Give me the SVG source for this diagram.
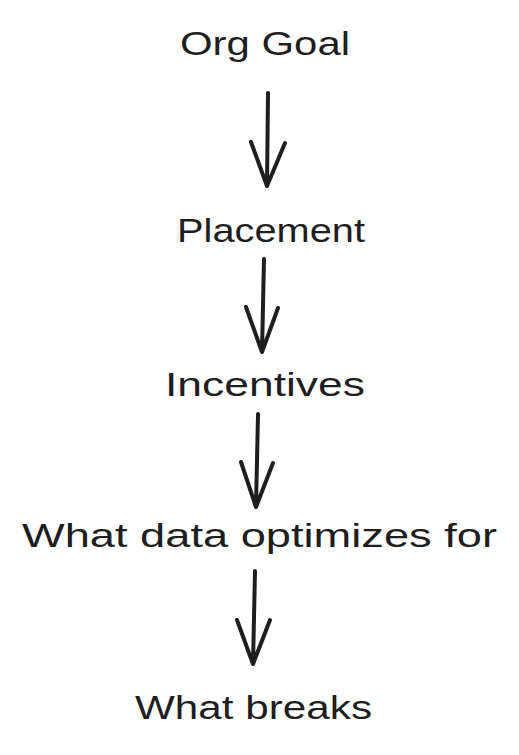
<svg xmlns="http://www.w3.org/2000/svg" width="519" height="755" viewBox="0 0 519 755">
<style>
.t{font-family:"Liberation Sans","DejaVu Sans",sans-serif;font-size:33px;fill:#1e1e1e}
.a{fill:none;stroke:#1e1e1e;stroke-width:4;stroke-linecap:round;stroke-linejoin:round}
</style>
<rect width="519" height="755" fill="#ffffff"/>
<g id="node-org-goal"><text class="t" x="180" y="55" textLength="170" lengthAdjust="spacingAndGlyphs">Org Goal</text></g>
<g id="node-placement"><text class="t" x="177" y="242" textLength="188" lengthAdjust="spacingAndGlyphs">Placement</text></g>
<g id="node-incentives"><text class="t" x="165" y="396" textLength="200" lengthAdjust="spacingAndGlyphs">Incentives</text></g>
<g id="node-what-data"><text class="t" x="22" y="547" textLength="475" lengthAdjust="spacingAndGlyphs">What data optimizes for</text></g>
<g id="node-what-breaks"><text class="t" x="135" y="719" textLength="237" lengthAdjust="spacingAndGlyphs">What breaks</text></g>
<g id="connectors">
<path class="a" d="M268 93 L267 186 M251 142 L267 186 L285 143"/>
<path class="a" d="M264 259 L262 352 M246 307 L262 352 L278 308"/>
<path class="a" d="M258 414 L256 507 M241 462 L256 507 L273 463"/>
<path class="a" d="M255 571 L253 664 M237 620 L253 664 L270 620"/>
</g>
</svg>
